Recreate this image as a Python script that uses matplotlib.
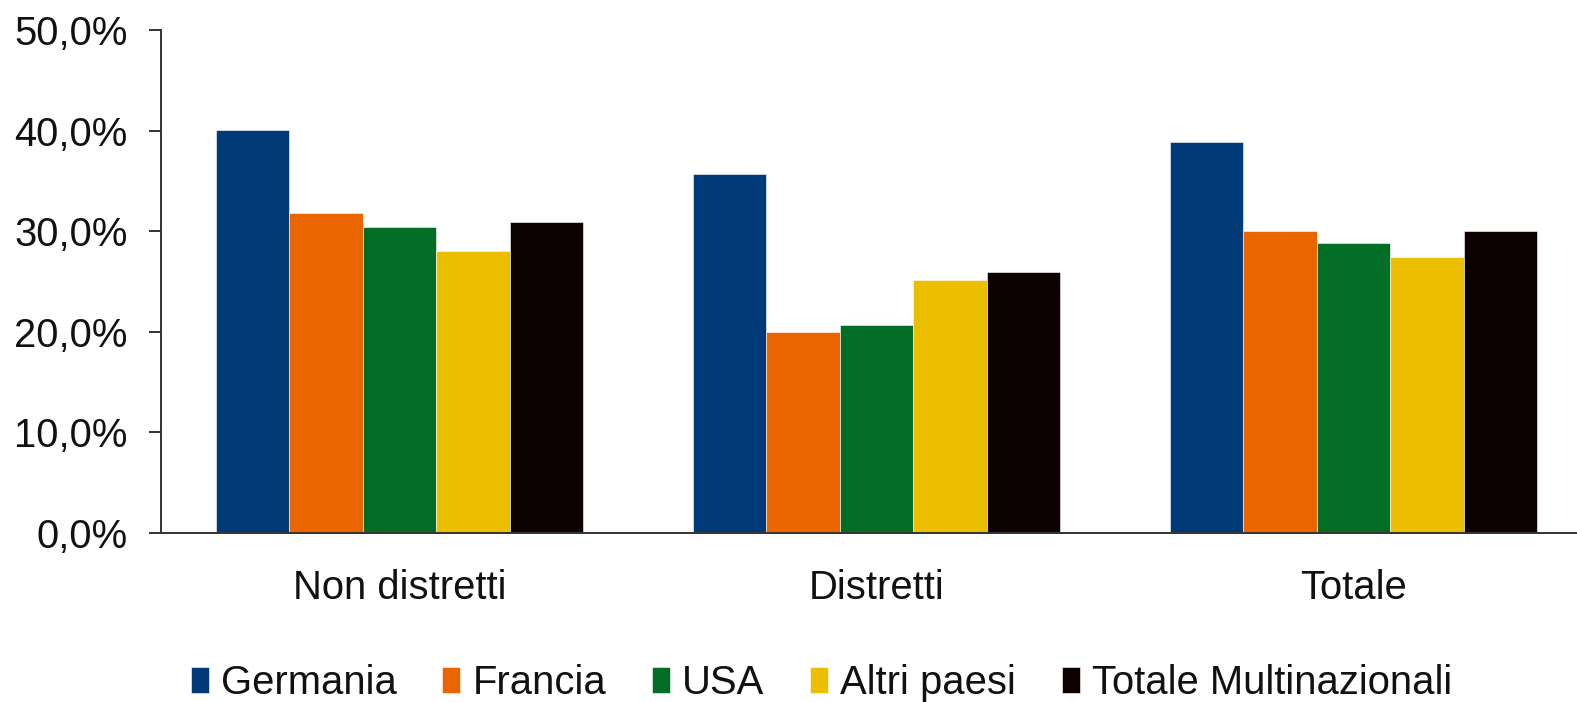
import matplotlib
matplotlib.use("Agg")
import matplotlib.pyplot as plt
import numpy as np
from matplotlib.ticker import FuncFormatter

plt.rcParams['font.family'] = ['Liberation Sans', 'DejaVu Sans']

categories = ["Non distretti", "Distretti", "Totale"]
series_names = ["Germania", "Francia", "USA", "Altri paesi", "Totale Multinazionali"]
germania = [40.1, 35.7, 38.9]
francia = [31.8, 20.0, 30.0]
usa = [30.4, 20.7, 28.8]
altri_paesi = [28.0, 25.1, 27.4]
totale_multinazionali = [30.9, 25.9, 30.0]
colors = ["#003A78", "#EA6500", "#026E25", "#EBBE00", "#0C0000"]

values = [germania, francia, usa, altri_paesi, totale_multinazionali]

W, H = 1577, 702
fig = plt.figure(figsize=(W / 100, H / 100), dpi=100)
ax = fig.add_axes([161 / W, 169 / H, 1431 / W, 503 / H])

x = np.arange(len(categories))
n = len(series_names)
bw = 0.77 / n
for i, (name, vals, c) in enumerate(zip(series_names, values, colors)):
    ax.bar(x + (i - (n - 1) / 2) * bw, vals, width=bw, color=c, label=name,
           edgecolor="white", linewidth=0.4)

ax.set_xlim(-0.5, 2.5)
ax.set_ylim(0, 50)
ax.set_yticks(np.arange(0, 51, 10))
ax.yaxis.set_major_formatter(FuncFormatter(lambda v, p: f"{v:.1f}%".replace(".", ",")))
ax.set_xticks(x)
ax.set_xticklabels(categories)

for s in ["top", "right"]:
    ax.spines[s].set_visible(False)
for s in ["left", "bottom"]:
    ax.spines[s].set_color("#333333")
    ax.spines[s].set_linewidth(1.4)

ax.tick_params(axis="y", length=9, width=1.4, color="#333333", pad=15,
               labelsize=28.8, labelcolor="#111111")
ax.tick_params(axis="x", length=0, pad=26, labelsize=28.8, labelcolor="#111111")

fig.legend(loc="center", bbox_to_anchor=(0.521, 0.027), ncol=5, frameon=False,
           fontsize=28.8, handlelength=0.45, handleheight=0.6, handletextpad=0.3,
           columnspacing=1.15, borderaxespad=0, labelcolor="#111111")

fig.savefig("out.png", dpi=100)
